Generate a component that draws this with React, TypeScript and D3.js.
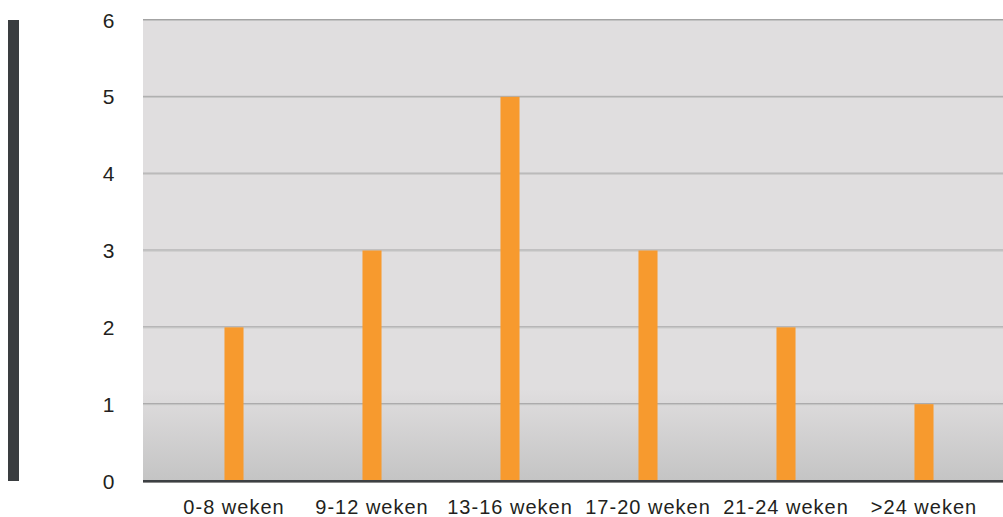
import React from "react";
import * as d3 from "d3";

const categories = ["0-8 weken", "9-12 weken", "13-16 weken", "17-20 weken", "21-24 weken", ">24 weken"];
const values = [2, 3, 5, 3, 2, 1];
const yTicks = [0, 1, 2, 3, 4, 5, 6];

const W = 1003;
const H = 517;

export default function App() {
  const y = d3.scaleLinear().domain([0, 6]).range([481, 20]);
  const x = d3
    .scaleBand<string>()
    .domain(categories)
    .range([165, 993])
    .paddingInner(0.862)
    .paddingOuter(0.431);
  const plotLeft = 143;
  const plotRight = W;
  const font = "'Liberation Sans', Arial, Helvetica, sans-serif";
  return (
    <svg
      width={W}
      height={H}
      style={{ position: "absolute", left: 0, top: 0, display: "block" }}
    >
      <defs>
        <linearGradient id="bg" x1="0" y1={y(6)} x2="0" y2={y(0)} gradientUnits="userSpaceOnUse">
          <stop offset="0" stopColor="#e0dedf" />
          <stop offset="0.8" stopColor="#e0dedf" />
          <stop offset="1" stopColor="#c4c4c4" />
        </linearGradient>
      </defs>
      <rect x={0} y={0} width={W} height={H} fill="#ffffff" />
      <rect x={8} y={20} width={11} height={461} fill="#3a3d40" />
      <rect
        x={plotLeft}
        y={y(6)}
        width={plotRight - plotLeft}
        height={y(0) - y(6)}
        fill="url(#bg)"
      />
      {yTicks.slice(1).map((t) => (
        <g key={t}>
          <line x1={plotLeft} x2={plotRight} y1={y(t) - 0.5} y2={y(t) - 0.5} stroke="#a3a3a3" strokeWidth={1} />
          <line x1={plotLeft} x2={plotRight} y1={y(t) + 0.5} y2={y(t) + 0.5} stroke="#c2c2c2" strokeWidth={1} />
        </g>
      ))}
      {values.map((v, i) => (
        <rect
          key={categories[i]}
          x={x(categories[i])!}
          y={y(v)}
          width={x.bandwidth()}
          height={y(0) - y(v)}
          fill="#f79a2e"
        />
      ))}
      <line x1={plotLeft} x2={plotRight} y1={y(0)} y2={y(0)} stroke="#3d4043" strokeWidth={2} />
      <line x1={plotLeft} x2={plotRight} y1={y(0) + 1.5} y2={y(0) + 1.5} stroke="#8a8a8a" strokeWidth={1} />
      {yTicks.map((t) => (
        <text
          key={t}
          x={108.5}
          y={y(t)}
          dy="0.36em"
          textAnchor="middle"
          fontFamily={font}
          fontSize={21}
          fill="#231f20"
        >
          {t}
        </text>
      ))}
      {categories.map((c) => (
        <text
          key={c}
          x={x(c)! + x.bandwidth() / 2}
          y={514}
          textAnchor="middle"
          fontFamily={font}
          fontSize={20}
          letterSpacing={1}
          fill="#231f20"
        >
          {c}
        </text>
      ))}
    </svg>
  );
}
